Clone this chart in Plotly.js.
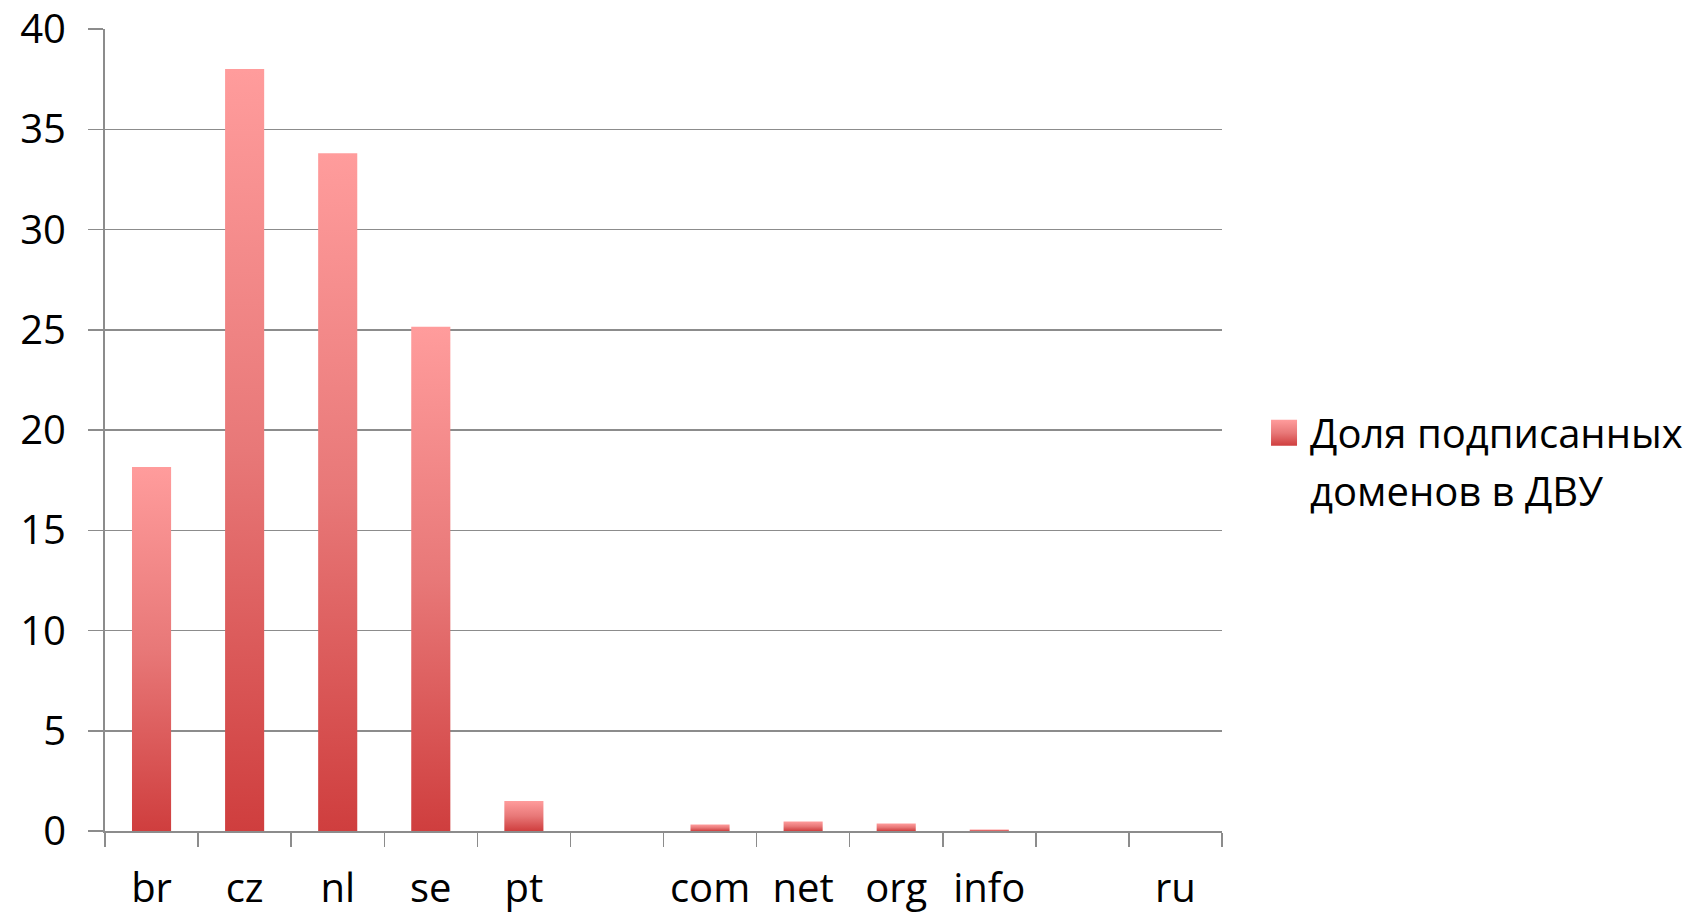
<!DOCTYPE html>
<html>
<head>
<meta charset="utf-8">
<script src="https://cdn.plot.ly/plotly-3.0.1.min.js"></script>
<style>
html,body{margin:0;padding:0;background:#fff;}
#chart{width:1700px;height:915px;}
</style>
</head>
<body>
<div id="chart"></div>
<script>
const categories = ["br", "cz", "nl", "se", "pt", " ", "com", "net", "org", "info", "  ", "ru"];
const values = [18.15, 38.0, 33.8, 25.15, 1.5, null, 0.32, 0.47, 0.37, 0.07, null, 0];
const seriesName = "Доля подписанных<br>доменов в ДВУ";
const yTicks = [0, 5, 10, 15, 20, 25, 30, 35, 40];

const FONT = "Open Sans, Lato, sans-serif";
const GRID = "#8c8c8c";

const trace = {
  type: "bar",
  x: categories,
  y: values,
  name: seriesName,
  showlegend: true,
  width: 0.42,
  marker: {color: "#e06a6a", line: {width: 0}},
  hoverinfo: "x+y"
};

const layout = {
  width: 1700,
  height: 915,
  paper_bgcolor: "#ffffff",
  plot_bgcolor: "#ffffff",
  margin: {l: 105, r: 478, t: 29, b: 84},
  font: {family: FONT, size: 40, color: "#000"},
  xaxis: {
    type: "category",
    categoryorder: "array",
    categoryarray: categories,
    tickson: "boundaries",
    ticks: "outside",
    ticklen: 14,
    tickwidth: 1.5,
    tickcolor: GRID,
    showline: true,
    linecolor: GRID,
    linewidth: 2,
    showgrid: false,
    ticklabelstandoff: 21,
    tickfont: {family: FONT, size: 40, color: "#000"},
    fixedrange: true
  },
  yaxis: {
    range: [0, 40],
    tickvals: yTicks,
    ticks: "outside",
    ticklen: 15,
    tickwidth: 1.5,
    tickcolor: GRID,
    showline: true,
    linecolor: GRID,
    linewidth: 2,
    showgrid: true,
    gridcolor: GRID,
    gridwidth: 1.5,
    zeroline: false,
    ticklabelstandoff: 14,
    tickfont: {family: FONT, size: 40, color: "#000"},
    fixedrange: true
  },
  legend: {
    x: 1.043,
    xanchor: "left",
    y: 0.537,
    yanchor: "top",
    valign: "top",
    font: {family: FONT, size: 40, color: "#000"},
    bgcolor: "rgba(0,0,0,0)",
    itemwidth: 30
  },
  showlegend: true
};

Plotly.newPlot("chart", [trace], layout, {displayModeBar: false, staticPlot: true}).then(function (gd) {
  const svg = gd.querySelector(".main-svg");
  const ns = "http://www.w3.org/2000/svg";
  let defs = svg.querySelector("defs");
  if (!defs) { defs = document.createElementNS(ns, "defs"); svg.insertBefore(defs, svg.firstChild); }
  const grad = document.createElementNS(ns, "linearGradient");
  grad.setAttribute("id", "barGrad");
  grad.setAttribute("x1", "0"); grad.setAttribute("y1", "0");
  grad.setAttribute("x2", "0"); grad.setAttribute("y2", "1");
  [["0", "#ff9c9c"], ["0.5", "#e87878"], ["1", "#cf3e3e"]].forEach(function (s) {
    const st = document.createElementNS(ns, "stop");
    st.setAttribute("offset", s[0]);
    st.setAttribute("stop-color", s[1]);
    grad.appendChild(st);
  });
  defs.appendChild(grad);
  gd.querySelectorAll(".trace.bars .point path").forEach(function (p) {
    p.style.fill = "url(#barGrad)";
  });
  gd.querySelectorAll(".legend .legendpoints path").forEach(function (p) {
    p.style.fill = "url(#barGrad)";
    p.setAttribute("d", "M7,13H-19V-13H7Z");
  });
  gd.querySelectorAll(".legend .legendtext tspan.line").forEach(function (t, i) {
    if (i > 0) t.setAttribute("dy", (1.43 * i) + "em");
  });
});
</script>
</body>
</html>
